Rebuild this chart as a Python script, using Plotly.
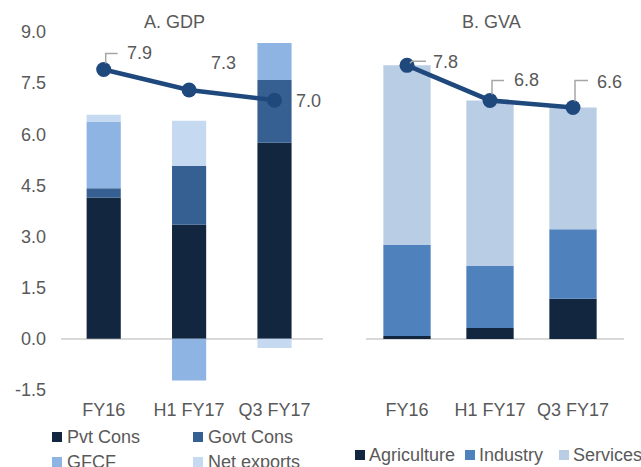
import plotly.graph_objects as go

W, H = 641, 467

categories = ["FY16", "H1 FY17", "Q3 FY17"]

# Panel A: GDP contributions
gdp_series = ["Pvt Cons", "Govt Cons", "GFCF", "Net exports"]
pvt_cons = [4.14, 3.35, 5.75]
govt_cons = [0.28, 1.72, 1.84]
gfcf = [1.94, -1.22, 1.09]
net_exports = [0.21, 1.33, -0.27]
gdp_growth = [7.9, 7.3, 7.0]

# Panel B: GVA contributions
gva_series = ["Agriculture", "Industry", "Services"]
agriculture = [0.09, 0.32, 1.15]
industry = [2.59, 1.76, 1.98]
services = [5.12, 4.72, 3.47]
gva_growth = [7.8, 6.8, 6.6]

y_ticks = [-1.5, 0.0, 1.5, 3.0, 4.5, 6.0, 7.5, 9.0]

gdp_colors = ["#12263F", "#366092", "#8DB4E2", "#C5D9F1"]
gva_colors = ["#12263F", "#4F81BD", "#B9CDE5"]
line_color = "#1F497D"
text_color = "#595959"
FONT = "Liberation Sans, Arial, sans-serif"

fig = go.Figure()

for name, vals, col in zip(gdp_series, [pvt_cons, govt_cons, gfcf, net_exports], gdp_colors):
    fig.add_trace(go.Bar(x=categories, y=vals, name=name, marker_color=col,
                         marker_line_width=0, width=0.4, xaxis="x", yaxis="y",
                         showlegend=False))
fig.add_trace(go.Scatter(x=categories, y=gdp_growth, mode="lines+markers",
                         line=dict(color=line_color, width=4.5),
                         marker=dict(size=15, color=line_color),
                         xaxis="x", yaxis="y", showlegend=False, name="GDP"))

for name, vals, col in zip(gva_series, [agriculture, industry, services], gva_colors):
    fig.add_trace(go.Bar(x=categories, y=vals, name=name, marker_color=col,
                         marker_line_width=0, width=0.57, xaxis="x2", yaxis="y2",
                         showlegend=False))
fig.add_trace(go.Scatter(x=categories, y=gva_growth, mode="lines+markers",
                         line=dict(color=line_color, width=4.5),
                         marker=dict(size=15, color=line_color),
                         xaxis="x2", yaxis="y2", showlegend=False, name="GVA"))

ydom = [1 - 390 / H, 1 - 32 / H]
common_x = dict(type="category", showgrid=False, showline=False, ticks="",
                tickfont=dict(size=18, color=text_color, family=FONT),
                ticklabelstandoff=7, fixedrange=True)
fig.update_layout(
    width=W, height=H,
    margin=dict(l=0, r=0, t=0, b=0),
    paper_bgcolor="white", plot_bgcolor="white",
    barmode="relative", bargap=0.5,
    font=dict(family=FONT, size=18, color=text_color),
    xaxis=dict(domain=[61 / W, 323 / W], anchor="y", **common_x),
    yaxis=dict(domain=ydom, range=[-1.5, 9.0], tickvals=y_ticks,
               ticktext=[f"{v:.1f}" for v in y_ticks], showgrid=False,
               zeroline=True, zerolinecolor="#D9D9D9", zerolinewidth=1.5,
               tickfont=dict(size=18, color=text_color, family=FONT),
               ticklabelstandoff=14, anchor="x", automargin=False),
    xaxis2=dict(domain=[365.5 / W, 623.5 / W], anchor="y2", **common_x),
    yaxis2=dict(domain=ydom, range=[-1.45, 8.75], showgrid=False,
                showticklabels=False, zeroline=True, zerolinecolor="#D9D9D9",
                zerolinewidth=1.5, anchor="x2"),
)

ann = []
shapes = []

# Panel titles
ann.append(dict(text="A. GDP", xref="paper", yref="paper", x=174 / W, y=1 - 22 / H,
                showarrow=False, xanchor="center", yanchor="middle",
                font=dict(size=18, color=text_color)))
ann.append(dict(text="B. GVA", xref="paper", yref="paper", x=491 / W, y=1 - 22 / H,
                showarrow=False, xanchor="center", yanchor="middle",
                font=dict(size=18, color=text_color)))

# Data labels for the lines
gdp_shift = [(36, 16), (34, 27), (34, -1)]
gva_shift = [(38, 3), (36, 20), (36, 25)]
for i, (v, (dx, dy)) in enumerate(zip(gdp_growth, gdp_shift)):
    ann.append(dict(text=f"{v:.1f}", xref="x", yref="y", x=i, y=v, xshift=dx, yshift=dy,
                    showarrow=False, font=dict(size=18, color=text_color)))
for i, (v, (dx, dy)) in enumerate(zip(gva_growth, gva_shift)):
    ann.append(dict(text=f"{v:.1f}", xref="x2", yref="y2", x=i, y=v, xshift=dx, yshift=dy,
                    showarrow=False, font=dict(size=18, color=text_color)))

# Leader lines
leaders = [("x", "y", 0, gdp_growth[0], "M2,6 L2,16 L14,16"),
           ("x2", "y2", 0, gva_growth[0], "M3,2 L5,4 L19,4"),
           ("x2", "y2", 1, gva_growth[1], "M2,6 L2,20 L14,20"),
           ("x2", "y2", 2, gva_growth[2], "M2,6 L2,27 L15,27")]
for xr, yr, xi, yv, path in leaders:
    shapes.append(dict(type="path", xref=xr, yref=yr, xsizemode="pixel", ysizemode="pixel",
                       xanchor=xi, yanchor=yv, path=path,
                       line=dict(color="#A6A6A6", width=1.5)))

# Manual legends
def legend_item(name, color, sx, cy, size=10, tx_gap=3):
    shapes.append(dict(type="rect", xref="paper", yref="paper",
                       x0=sx / W, x1=(sx + size) / W,
                       y0=1 - (cy + size / 2) / H, y1=1 - (cy - size / 2) / H,
                       fillcolor=color, line=dict(width=0)))
    ann.append(dict(text=name, xref="paper", yref="paper", x=(sx + size + tx_gap) / W,
                    y=1 - cy / H, xanchor="left", yanchor="middle", showarrow=False,
                    font=dict(size=18, color=text_color)))

legend_item(gdp_series[0], gdp_colors[0], 52, 437)
legend_item(gdp_series[1], gdp_colors[1], 193, 437)
legend_item(gdp_series[2], gdp_colors[2], 52, 462)
legend_item(gdp_series[3], gdp_colors[3], 193, 462)
legend_item(gva_series[0], gva_colors[0], 355, 455, tx_gap=2)
legend_item(gva_series[1], gva_colors[1], 465, 455, tx_gap=2)
legend_item(gva_series[2], gva_colors[2], 559, 455, tx_gap=2)

fig.update_layout(annotations=ann, shapes=shapes)
fig.write_html("out.html", config={"displayModeBar": False},
               post_script="document.body.style.margin='0';document.body.style.padding='0';document.body.style.overflow='hidden';")
